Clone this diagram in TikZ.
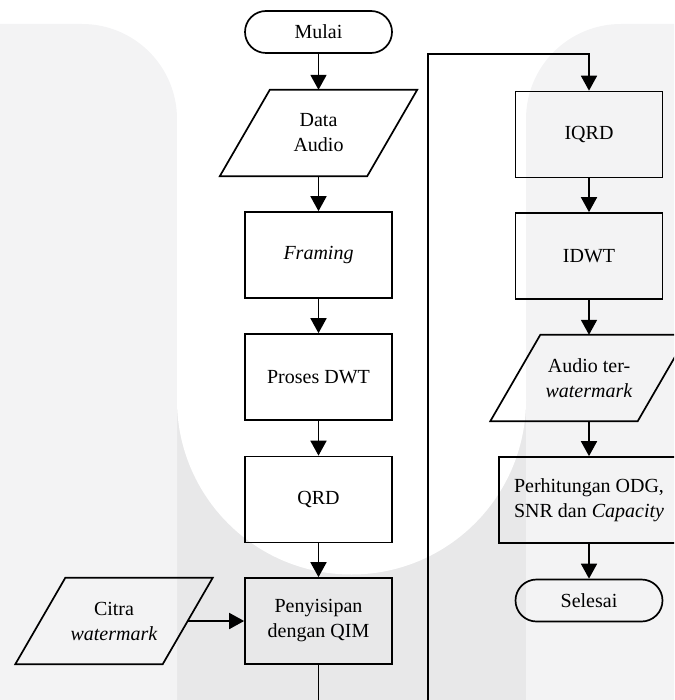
\documentclass[tikz,border=0pt]{standalone}
\usepackage{fontspec}
\setmainfont{Liberation Serif}
\usetikzlibrary{arrows.meta}
\definecolor{bglight}{HTML}{F3F3F4}
\definecolor{bgdark}{HTML}{E8E8E9}
\begin{document}
\begin{tikzpicture}[x=1pt,y=-1pt,
  txt/.style={font=\fontsize{20}{25}\selectfont, align=center, inner sep=0pt},
  proc/.style={txt, draw, line width=1.7pt, minimum width=147pt, minimum height=86pt},
  term/.style={txt, draw, line width=1.7pt, rounded corners=21pt, minimum width=147pt, minimum height=42pt},
  io/.style={txt, minimum width=147pt, minimum height=86pt},
  para/.style={line width=1.7pt, line join=miter},
  link/.style={line width=1.8pt, -{Triangle[width=16pt,length=15pt]}},
]
\useasboundingbox (0,0) rectangle (674,700);
\clip (0,0) rectangle (674,700);
% background watermark
\fill[bgdark] (177,24) rectangle (526,710);
\fill[bglight] (0,710) -- (0,24) -- (82,24) .. controls (134.5,24) and (177,66.5) .. (177,119) -- (177,710) -- cycle;
\fill[bglight] (684,710) -- (684,24) -- (621,24) .. controls (568.5,24) and (526,66.5) .. (526,119) -- (526,710) -- cycle;
\fill[white] (177,-5) rectangle (526,400);
\fill[white] (351.5,400) circle[radius=174.5];
% nodes
\node[term] (mulai) at (318.5,32) {Mulai};
\node[io] (data) at (318.5,133) {Data\\Audio};
\node[proc] (framing) at (318.5,255) {\textit{Framing}};
\node[proc] (dwt) at (318.5,377) {Proses DWT};
\node[proc] (qrd) at (318.5,499.5) {QRD};
\node[proc] (pen) at (318.5,621) {Penyisipan\\dengan QIM};
\node[io] (citra) at (114,621) {Citra\\\textit{watermark}};
\node[proc] (iqrd) at (589,134.5) {IQRD};
\node[proc] (idwt) at (589,256) {IDWT};
\node[io] (audio) at (589,378) {Audio ter-\\\textit{watermark}};
\node[proc, minimum width=180pt] (perh) at (589,500) {Perhitungan ODG,\\SNR dan \textit{Capacity}};
\node[term] (selesai) at (589,600.5) {Selesai};
\foreach \n in {data,citra,audio}
  \draw[para] ([xshift=25pt]\n.north west) -- ([xshift=25pt]\n.north east) -- ([xshift=-25pt]\n.south east) -- ([xshift=-25pt]\n.south west) -- cycle;
% connectors
\draw[link] (mulai) -- (data);
\draw[link] (data) -- (framing);
\draw[link] (framing) -- (dwt);
\draw[link] (dwt) -- (qrd);
\draw[link] (qrd) -- (pen);
\draw[link] (citra) -- (pen);
\coordinate (b1) at (318.5,720);
\coordinate (b2) at (428,720);
\coordinate (t1) at (428,54);
\coordinate (t2) at (589,54);
\draw[link] (pen.south) -- (b1) -- (b2) -- (t1) -- (t2) -- (iqrd.north);
\draw[link] (iqrd) -- (idwt);
\draw[link] (idwt) -- (audio);
\draw[link] (audio) -- (perh);
\draw[link] (perh) -- (selesai);
\end{tikzpicture}
\end{document}
